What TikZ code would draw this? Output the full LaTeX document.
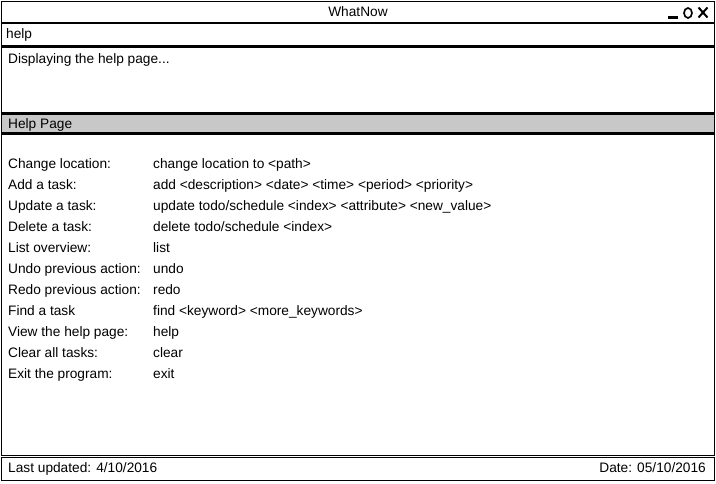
\documentclass[tikz,border=0pt]{standalone}
\usepackage{fontspec}
\setmainfont{Liberation Sans}
\begin{document}
\begin{tikzpicture}[x=1pt,y=-1pt,
  frame/.style={draw=black,line width=1.6pt},
  txt/.style={anchor=base west,inner sep=0pt,font=\fontsize{13.7}{15}\selectfont},
  rtxt/.style={anchor=base east,inner sep=0pt,font=\fontsize{13.7}{15}\selectfont}]
\useasboundingbox (0,0) rectangle (716,484);
\fill[white] (0,0) rectangle (716,484);
% title bar
\draw[frame] (1.5,1.5) rectangle (714.5,22.5);
\node[anchor=base,inner sep=0pt,font=\fontsize{13.7}{15}\selectfont] (title) at (358,17) {WhatNow};
\draw[line width=2.6pt] (668,17.5) -- (678,17.5);
\draw[line width=1.6pt] (688,13) ellipse (4 and 5);
\draw[line width=2pt] (698.5,7.5) -- (707.5,17.5) (707.5,7.5) -- (698.5,17.5);
% input box
\draw[frame] (1.5,23.5) rectangle (714.5,46);
\node[txt] (input) at (6,39) {help};
% output box
\draw[frame] (1.5,47.5) rectangle (714.5,113);
\node[txt] (output) at (8,64) {Displaying the help page...};
% help header
\draw[frame,fill={rgb,255:red,200;green,200;blue,200}] (1.5,114.5) rectangle (714.5,133);
\node[txt] (header) at (8,128.5) {Help Page};
% content
\draw[frame] (1.5,134.5) rectangle (714.5,455.5);
\foreach \i/\a/\b in {
 0/{Change location:}/{change location to <path>},
 1/{Add a task:}/{add <description> <date> <time> <period> <priority>},
 2/{Update a task:}/{update todo/schedule <index> <attribute> <new\_value>},
 3/{Delete a task:}/{delete todo/schedule <index>},
 4/{List overview:}/{list},
 5/{Undo previous action:}/{undo},
 6/{Redo previous action:}/{redo},
 7/{Find a task}/{find <keyword> <more\_keywords>},
 8/{View the help page:}/{help},
 9/{Clear all tasks:}/{clear},
 10/{Exit the program:}/{exit}}{
  \node[txt] (l\i) at (8,169+20.9*\i) {\a};
  \node[txt] (c\i) at (153,169+20.9*\i) {\b};
}
% status bar
\draw[frame] (1.5,457.5) rectangle (714.5,480.5);
\node[txt] (last) at (8,472.5) {Last updated: 4/10/2016};
\node[rtxt] (date) at (706,472.5) {Date: 05/10/2016};
\end{tikzpicture}
\end{document}
